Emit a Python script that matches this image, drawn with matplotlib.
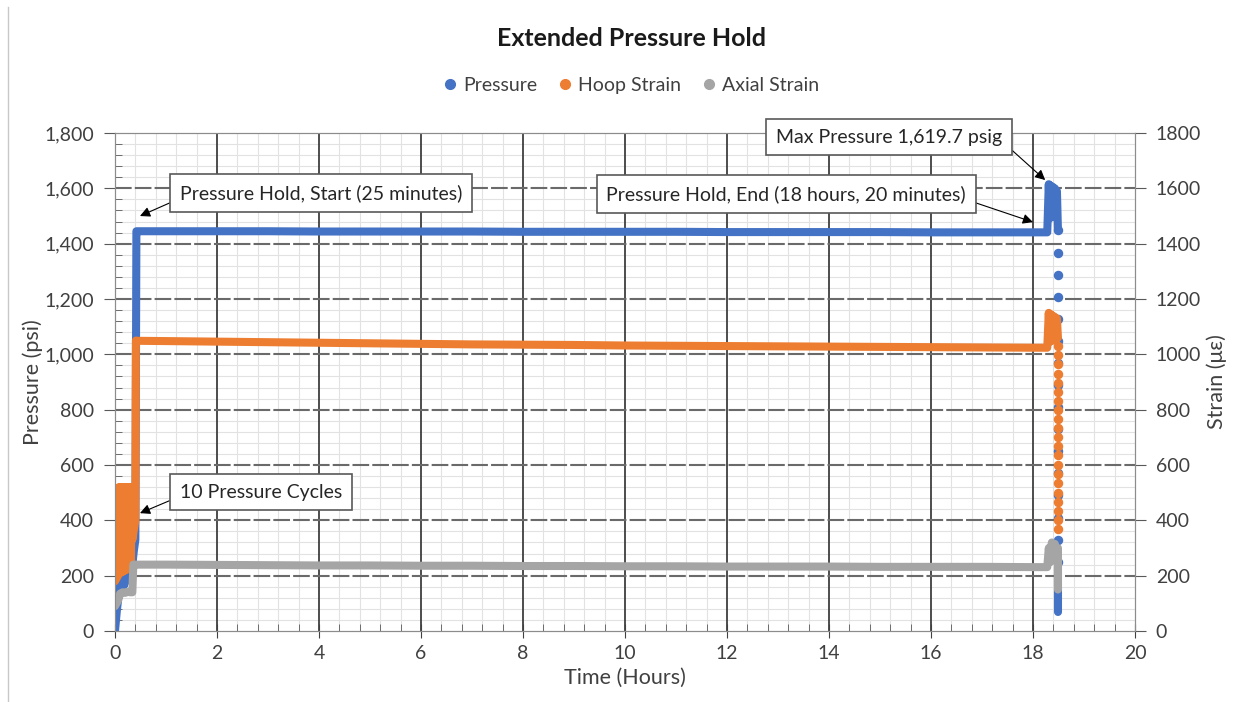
import matplotlib.pyplot as plt
from matplotlib.ticker import MultipleLocator, FuncFormatter
from matplotlib.lines import Line2D

plt.rcParams['font.family'] = ['Lato', 'DejaVu Sans']

BLUE = '#4472C4'
ORANGE = '#ED7D31'
GRAY = '#A5A5A5'

# ---- Pressure (psi), dense readings drawn as a thick trace ----
pres_t = [0.00, 0.02, 0.04, 0.06, 0.075, 0.088, 0.100, 0.113, 0.125, 0.138, 0.150, 0.163,
          0.175, 0.188, 0.200, 0.213, 0.225, 0.238, 0.250, 0.263, 0.275, 0.288, 0.300,
          0.313, 0.325, 0.34, 0.37, 0.40, 0.42, 0.45, 1, 2, 3, 4, 5, 6, 7, 8, 9, 10, 11,
          12, 13, 14, 15, 16, 17, 18, 18.28, 18.31, 18.33, 18.35, 18.37, 18.39, 18.41,
          18.43, 18.45, 18.47, 18.49]
pres_v = [0, 40, 80, 110, 515, 130, 515, 140, 515, 150, 515, 160, 515, 170, 515, 180,
          515, 190, 515, 200, 515, 210, 515, 220, 515, 240, 290, 330, 1445, 1445, 1445,
          1445, 1445, 1444, 1444, 1444, 1444, 1443, 1443, 1443, 1443, 1442, 1442, 1442,
          1442, 1441, 1441, 1441, 1441, 1615, 1500, 1610, 1495, 1605, 1500, 1600, 1505,
          1590, 1449]
# pressure release, individual readings
pres_rel_t = [18.49] * 16
pres_rel_v = [1449, 1366, 1287, 1207, 1128, 1049, 970, 890, 810, 730, 650, 570, 490, 410, 330, 250]
pres_end_t = [18.49, 18.49, 18.49, 18.49]
pres_end_v = [230, 170, 110, 70]

# ---- Hoop strain (microstrain) ----
hoop_t = [0.00, 0.03, 0.06, 0.075, 0.088, 0.100, 0.113, 0.125, 0.138, 0.150, 0.163,
          0.175, 0.188, 0.200, 0.213, 0.225, 0.238, 0.250, 0.263, 0.275, 0.288, 0.300,
          0.313, 0.325, 0.34, 0.40, 0.41, 0.45, 1, 2, 3, 4, 5, 6, 7, 8, 9, 10, 11, 12,
          13, 14, 15, 16, 17, 18, 18.28, 18.31, 18.33, 18.35, 18.37, 18.39, 18.41, 18.43,
          18.45, 18.47, 18.49]
hoop_v = [180, 190, 200, 520, 210, 520, 210, 520, 215, 520, 215, 520, 220, 520, 220, 520,
          225, 520, 225, 520, 230, 520, 230, 520, 330, 400, 1050, 1049, 1048, 1046, 1044,
          1042, 1040, 1038, 1036, 1035, 1034, 1032, 1031, 1030, 1029, 1028, 1027, 1026,
          1025, 1024, 1024, 1150, 1045, 1145, 1050, 1140, 1050, 1135, 1050, 1130, 1060]
hoop_rel_t = [18.49] * 21
hoop_rel_v = [1030, 997, 965, 930, 898, 865, 832, 800, 768, 735, 700, 668, 635, 600,
              568, 535, 500, 468, 435, 400, 370]

# ---- Axial strain (microstrain) ----
axial_t = [0.00, 0.03, 0.06, 0.10, 0.15, 0.20, 0.25, 0.30, 0.34, 0.36, 0.45, 1, 2, 3, 4,
           5, 6, 7, 8, 9, 10, 11, 12, 13, 14, 15, 16, 17, 18, 18.28, 18.31, 18.34, 18.37,
           18.40, 18.43, 18.46, 18.49, 18.49, 18.49]
axial_v = [90, 100, 110, 135, 140, 138, 142, 140, 140, 240, 240, 240, 239, 238, 237, 237,
           236, 236, 235, 235, 234, 234, 233, 233, 233, 232, 232, 232, 231, 231, 300, 250,
           320, 255, 315, 260, 300, 200, 150]

fig = plt.figure(figsize=(12.35, 7.02), dpi=100)
ax = fig.add_axes([0.0931, 0.1011, 0.8259, 0.7094])
ax2 = ax.twinx()

lw = 5.8
ms = 5.8
ax.plot(pres_t, pres_v, color=BLUE, lw=lw, solid_capstyle='round', solid_joinstyle='round', zorder=3)
ax.plot(pres_rel_t, pres_rel_v, 'o', color=BLUE, ms=ms, zorder=3)
ax.plot(pres_end_t, pres_end_v, color=BLUE, lw=lw, solid_capstyle='round', zorder=3)
ax2.plot(hoop_t, hoop_v, color=ORANGE, lw=lw, solid_capstyle='round', solid_joinstyle='round')
ax2.plot(hoop_rel_t, hoop_rel_v, 'o', color=ORANGE, ms=ms)
ax2.plot(axial_t, axial_v, color=GRAY, lw=lw, solid_capstyle='round', solid_joinstyle='round')

for a in (ax, ax2):
    a.set_xlim(0, 20)
    a.set_ylim(0, 1800)
    for s in a.spines.values():
        s.set_color('#8c8c8c')

ax.xaxis.set_major_locator(MultipleLocator(2))
ax.xaxis.set_minor_locator(MultipleLocator(0.4))
ax.yaxis.set_major_locator(MultipleLocator(200))
ax.yaxis.set_minor_locator(MultipleLocator(40))
ax.yaxis.set_major_formatter(FuncFormatter(lambda v, p: f'{v:,.0f}'))
ax2.yaxis.set_major_locator(MultipleLocator(200))

# light minor grid first, then the dark major lines over it
ax.set_axisbelow(True)
ax.grid(which='minor', color='#e2e2e2', lw=0.8)
for x in range(2, 20, 2):
    ax.axvline(x, color='#3f3f3f', lw=1.3, zorder=1)
for y in range(200, 1800, 200):
    ax.axhline(y, color='#6a6a6a', lw=1.5, ls=(0, (8, 1.5)), zorder=1)

ax.tick_params(axis='y', which='major', direction='out', length=8, color='#595959',
               labelcolor='#404040', labelsize=14, pad=7)
ax.tick_params(axis='x', which='major', direction='inout', length=10, color='#404040',
               labelcolor='#404040', labelsize=14, pad=5)
ax.tick_params(which='minor', direction='in', length=5, color='#595959')
ax2.tick_params(axis='y', direction='out', length=8, color='#595959',
                labelcolor='#404040', labelsize=14, pad=7)

ax.set_xlabel('Time (Hours)', fontsize=15.5, color='#404040', labelpad=4)
ax.set_ylabel('Pressure (psi)', fontsize=15.5, color='#404040', labelpad=1)
ax2.set_ylabel('Strain (\u03bc\u03b5)', fontsize=15.5, color='#404040', labelpad=4)

fig.suptitle('Extended Pressure Hold', x=0.511, y=0.962, fontsize=18, fontweight='bold',
             color='#1a1a1a')

handles = [Line2D([], [], ls='', marker='o', color=c, ms=7) for c in (BLUE, ORANGE, GRAY)]
fig.legend(handles, ['Pressure', 'Hoop Strain', 'Axial Strain'], loc='center',
           bbox_to_anchor=(0.511, 0.878), ncol=3, frameon=False, fontsize=14,
           handlelength=0.7, handletextpad=0.3, columnspacing=1.1, labelcolor='#404040')

box = dict(boxstyle='square,pad=0.5', fc='white', ec='#595959', lw=1.2)

def note(text, tip, center, relpos):
    ax2.annotate(text, xy=tip, xytext=center, ha='center', va='center', fontsize=14,
                 color='#262626', bbox=box, zorder=10,
                 arrowprops=dict(arrowstyle='-|>', color='black', lw=0.8,
                                 mutation_scale=15, relpos=relpos, shrinkA=0, shrinkB=0))

note('Pressure Hold, Start (25 minutes)', (0.49, 1500), (4.04, 1583), (0, 0.2))
note('Pressure Hold, End (18 hours, 20 minutes)', (18.0, 1478), (13.16, 1579), (1, 0.2))
note('Max Pressure 1,619.7 psig', (18.24, 1630), (15.18, 1785), (1, 0.25))
note('10 Pressure Cycles', (0.49, 426), (2.86, 502), (0, 0.25))

fig.add_artist(Line2D([0.0065, 0.0065], [0, 0.99], transform=fig.transFigure,
                      color='#c8c8c8', lw=1))

fig.savefig('out.png', dpi=100)
